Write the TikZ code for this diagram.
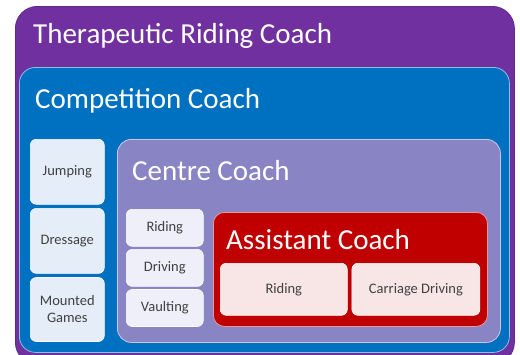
\documentclass[tikz,border=0pt]{standalone}
\usepackage{fontspec}
\setmainfont{Carlito}
\usetikzlibrary{positioning}
\definecolor{trcpurple}{HTML}{7030A0}
\definecolor{compblue}{HTML}{0070C0}
\definecolor{centrelav}{HTML}{8985C5}
\definecolor{asstred}{HTML}{C00000}
\definecolor{compitem}{HTML}{E5EEF8}
\definecolor{centreitem}{HTML}{EEEFF8}
\definecolor{asstitem}{HTML}{F8E6E7}
\definecolor{itemtext}{HTML}{404040}

\begin{document}
\begin{tikzpicture}[x=1pt,y=-1pt,
	tier/.style={ % 每一级教练的大框
		fill=#1, draw=white!55!#1, line width=0.8pt,
		anchor=north west, inner sep=0pt
	},
	tiertitle/.style={
		text=white, anchor=base west, inner sep=0pt,
		font=\fontsize{29}{33}\selectfont
	},
	item/.style={ % 小项目框
		fill=#1, draw=white, line width=0.6pt, rounded corners=6pt,
		anchor=north west, inner sep=0pt, align=center,
		text=itemtext, font=\fontsize{14.5}{17}\selectfont
	}
]
	\useasboundingbox (0,0) rectangle (520,354);
	%% Therapeutic Riding Coach
	\node[tier=trcpurple, rounded corners=22pt, draw=trcpurple!85!black,
		minimum width=499pt, minimum height=358pt] (trc) at (15,6) {};
	\node[tiertitle] (trct) at (33,43) {Therapeutic Riding Coach};
	%% Competition Coach
	\node[tier=compblue, rounded corners=16pt,
		minimum width=490pt, minimum height=285pt] (comp) at (19,67) {};
	\node[tiertitle] (compt) at (35,108) {Competition Coach};
	% 左边一列
	\node[item=compitem, minimum width=74pt, minimum height=65pt] (jump) at (30,139) {Jumping};
	\node[item=compitem, minimum width=74pt, minimum height=65pt,
		below=3.5pt of jump.south west, anchor=north west] (dress) {Dressage};
	\node[item=compitem, minimum width=74pt, minimum height=64pt,
		below=3.5pt of dress.south west, anchor=north west] (games) {Mounted\\Games};
	%% Centre Coach
	\node[tier=centrelav, rounded corners=14pt,
		minimum width=383pt, minimum height=203pt] (centre) at (117,139) {};
	\node[tiertitle] (centret) at (132,180) {Centre Coach};
	\node[item=centreitem, minimum width=77pt, minimum height=37pt] (cride) at (126,209) {Riding};
	\node[item=centreitem, minimum width=77pt, minimum height=37pt,
		below=2.5pt of cride.south west, anchor=north west] (cdrive) {Driving};
	\node[item=centreitem, minimum width=77pt, minimum height=37pt,
		below=2.5pt of cdrive.south west, anchor=north west] (cvault) {Vaulting};
	%% Assistant Coach
	\node[tier=asstred, rounded corners=11pt, draw=asstred!40!white,
		minimum width=274pt, minimum height=114pt] (asst) at (213,212) {};
	\node[tiertitle] (asstt) at (226,249) {Assistant Coach};
	\node[item=asstitem, minimum width=127pt, minimum height=52pt] (aride) at (220,263) {Riding};
	\node[item=asstitem, minimum width=128pt, minimum height=52pt,
		right=4pt of aride.north east, anchor=north west] (acarr) {Carriage Driving};
\end{tikzpicture}
\end{document}
